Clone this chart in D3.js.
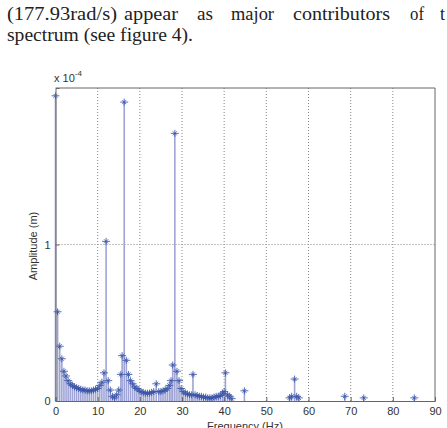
<!DOCTYPE html>
<html><head><meta charset="utf-8">
<script src="https://cdn.jsdelivr.net/npm/d3@7"></script>
<style>body{margin:0;background:#fff;}svg{display:block;}</style>
</head><body>
<script>
// Frequencies (Hz) and amplitudes (x 1e-4 m)
const freqs = [0,0.5,1,1.5,2,2.5,3,3.5,4,4.5,5,5.5,6,6.5,7,7.5,8,8.5,9,9.5,10,10.5,11,11.5,12,12.5,13,13.5,14,14.5,15,15.5,15.8,16.3,16.8,17.3,17.8,18.3,18.8,19.3,19.8,20.3,20.8,21.3,21.8,22.3,22.8,23.3,23.9,24.5,25,25.5,26,26.5,27,27.4,27.8,28.3,28.8,29.3,29.8,30.3,30.8,31.3,31.8,32.3,32.6,33.1,33.6,34.1,34.6,35.1,35.6,36.1,36.6,37.1,37.6,38.1,38.6,39.1,39.6,40.0,40.3,40.8,41.3,41.8,44.8,55.5,56.0,56.7,57.2,57.7,68.6,73.1,85.1];
const amps  = [1.95,0.57,0.35,0.27,0.19,0.16,0.13,0.11,0.10,0.09,0.085,0.08,0.075,0.07,0.07,0.065,0.065,0.065,0.07,0.075,0.08,0.10,0.12,0.18,1.02,0.13,0.07,0.03,0.02,0.04,0.07,0.17,0.29,1.91,0.26,0.17,0.13,0.11,0.09,0.08,0.07,0.06,0.055,0.05,0.05,0.05,0.055,0.06,0.11,0.06,0.06,0.065,0.07,0.08,0.10,0.13,0.23,1.71,0.19,0.13,0.08,0.06,0.05,0.045,0.04,0.04,0.17,0.04,0.035,0.03,0.03,0.025,0.025,0.02,0.02,0.02,0.025,0.03,0.03,0.035,0.05,0.06,0.18,0.04,0.03,0.015,0.065,0.02,0.03,0.14,0.03,0.02,0.03,0.02,0.02];
const xTicks = [0,10,20,30,40,50,60,70,80,90];
const yTicks = [0,1];
const line1Words = ["(177.93rad/s)","appear","as","major","contributors","of","t"];
const line1X = [7,124,197,231,293,410,440];
const line1W = [110,54,16,43,97,14,0];
const line2Text = "spectrum (see figure 4).";

const W = 447, H = 428;
const svg = d3.select("body").append("svg").attr("width", W).attr("height", H);

// paragraph text
const serif = "'Liberation Serif','DejaVu Serif',serif";
svg.selectAll("text.l1").data(line1Words).join("text")
  .attr("x", (d,i)=>line1X[i]).attr("y", 20)
  .attr("font-family", serif).attr("font-size", 18).attr("fill", "#222")
  .each(function(d,i){ if(line1W[i]>0) d3.select(this).attr("textLength",line1W[i]).attr("lengthAdjust","spacingAndGlyphs"); })
  .text(d=>d);
svg.append("text").attr("x",7).attr("y",41).attr("font-family",serif).attr("font-size",18)
  .attr("fill","#222").attr("textLength",186).attr("lengthAdjust","spacingAndGlyphs").text(line2Text);

const m = {l:55.5, r:435, t:88, b:401};
const x = d3.scaleLinear().domain([0,90]).range([m.l, m.r]);
const y = d3.scaleLinear().domain([0,2]).range([m.b, m.t]);
const sans = "'Liberation Sans',Arial,sans-serif";

// grid
const g = svg.append("g");
g.selectAll("line.gx").data(xTicks.filter(d=>d>0&&d<90)).join("line")
  .attr("x1",d=>x(d)).attr("x2",d=>x(d)).attr("y1",m.t).attr("y2",m.b)
  .attr("stroke","#888").attr("stroke-width",1).attr("stroke-dasharray","1,2");
g.selectAll("line.gy").data(yTicks.filter(d=>d>0)).join("line")
  .attr("x1",m.l).attr("x2",m.r).attr("y1",d=>y(d)).attr("y2",d=>y(d))
  .attr("stroke","#888").attr("stroke-width",1).attr("stroke-dasharray","1,2");

// stems
const data = freqs.map((f,i)=>({f, a:amps[i]}));
g.selectAll("line.stem").data(data).join("line")
  .attr("x1",d=>x(d.f)).attr("x2",d=>x(d.f)).attr("y1",y(0)).attr("y2",d=>y(d.a))
  .attr("stroke","#9ea4d6").attr("stroke-width",1.6);
// markers (asterisk-like)
const mk = g.selectAll("g.mk").data(data).join("g")
  .attr("transform",d=>`translate(${x(d.f)},${y(d.a)})`);
mk.append("path").attr("d","M-4,0H4M0,-3.5V3.5M-2,-2L2,2M-2,2L2,-2")
  .attr("stroke","#3a55a8").attr("stroke-width",1).attr("fill","none").attr("opacity",0.85);

// axes
const xAxis = d3.axisBottom(x).tickValues(xTicks).tickSize(-4).tickPadding(6).tickFormat(d3.format("d"));
const yAxis = d3.axisLeft(y).tickValues(yTicks).tickSize(-4).tickPadding(5).tickFormat(d3.format("d"));
const ax = svg.append("g").attr("transform",`translate(0,${m.b})`).call(xAxis);
const ay = svg.append("g").attr("transform",`translate(${m.l},0)`).call(yAxis);
[ax,ay].forEach(a=>{
  a.select(".domain").attr("stroke","#666");
  a.selectAll(".tick line").attr("stroke","#666");
  a.selectAll(".tick text").attr("font-family",sans).attr("font-size",11).attr("fill","#333");
});
// top & right box
svg.append("line").attr("x1",m.l).attr("x2",m.r).attr("y1",m.t).attr("y2",m.t).attr("stroke","#666");
svg.append("line").attr("x1",m.r).attr("x2",m.r).attr("y1",m.t).attr("y2",m.b).attr("stroke","#666");

// exponent label
const ex = svg.append("text").attr("x",54).attr("y",82).attr("font-family",sans).attr("font-size",11).attr("fill","#333");
ex.append("tspan").text("x 10");
ex.append("tspan").attr("dy",-6).attr("font-size",8).text("-4");

// axis labels
svg.append("text").attr("transform","translate(37,246) rotate(-90)").attr("text-anchor","middle")
  .attr("font-family",sans).attr("font-size",11).attr("fill","#333").text("Amplitude (m)");
svg.append("text").attr("x",245).attr("y",430).attr("text-anchor","middle")
  .attr("font-family",sans).attr("font-size",11).attr("fill","#333").text("Frequency (Hz)");
</script>
</body></html>
